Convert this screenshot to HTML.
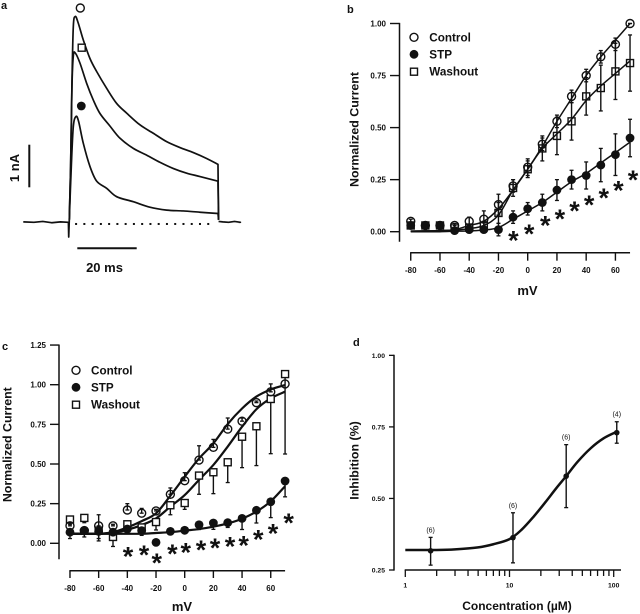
<!DOCTYPE html>
<html lang="en">
<head>
<meta charset="utf-8">
<title>Normalized current figure</title>
<style>
html,body{margin:0;padding:0;background:#fff;width:640px;height:614px;overflow:hidden}
svg{display:block;font-family:"Liberation Sans",Arial,sans-serif;font-weight:bold;fill:#111;filter:blur(0.35px)}
</style>
</head>
<body>
<svg id="fig" width="640" height="614" viewBox="0 0 640 614" xmlns="http://www.w3.org/2000/svg">
  <text x="1" y="9" font-size="11">a</text>
  <text x="347" y="13" font-size="11">b</text>
  <text x="2" y="350" font-size="11">c</text>
  <text x="353" y="346" font-size="11">d</text>

  <text transform="translate(19,168) rotate(-90)" text-anchor="middle" font-size="13">1 nA</text>
  <text x="104.5" y="272" text-anchor="middle" font-size="13">20 ms</text>

  <text transform="translate(358.5,129.5) rotate(-90)" text-anchor="middle" font-size="12.4">Normalized Current</text>
  <text x="527.5" y="295" text-anchor="middle" font-size="13">mV</text>
  <text transform="translate(11.5,444.7) rotate(-90)" text-anchor="middle" font-size="12.4">Normalized Current</text>
  <text x="182" y="611" text-anchor="middle" font-size="13">mV</text>
  <text transform="translate(358.5,460.5) rotate(-90)" text-anchor="middle" font-size="12.4">Inhibition (%)</text>
  <text x="517" y="610" text-anchor="middle" font-size="12">Concentration (µM)</text>

  <g id="panelA"></g>
  <g id="panelB"></g>
  <g id="panelC"></g>
  <g id="panelD"></g>
</svg>

<script>
/* ---------- Panel a: current traces (time in ms, current in nA) ---------- */
const controlTraceTime = [0,0.45,0.9,1.36,2.03,3.05,4.75,7,9.27,12.66,16.05,19.44,23.95,28.47,32.99,37.5,42.03,46.55,50.4,50.6];
const controlTraceCurrent = [0.06,1.33,3.31,4.66,4.9,4.74,4.34,3.9,3.59,3.19,2.83,2.6,2.32,2.12,1.92,1.78,1.66,1.52,1.38,0.06];
const washoutTraceTime = [0,0.45,0.9,1.36,2.03,3.62,5.88,8.14,10.4,13.8,17.2,21.7,26.2,30.7,35.3,39.8,44.3,50.4,50.6];
const washoutTraceCurrent = [0.06,1.33,3.23,3.96,4.03,3.79,3.31,2.91,2.59,2.29,2,1.76,1.6,1.43,1.28,1.17,1.09,0.98,0.06];
const stpTraceTime = [0,0.68,1.36,2.26,3.16,4.75,7,9.27,12.66,16.05,21.7,27.3,33,38.6,44.3,50.4,50.6];
const stpTraceCurrent = [0.06,1.33,2.28,2.52,2.4,1.88,1.33,0.98,0.81,0.61,0.49,0.36,0.29,0.27,0.24,0.21,0.06];
const preBaselineTime = [-15.6,-12,-9,-6,-3,-0.3,-0.2,0];
const preBaselineCurrent = [0.01,0,0.02,-0.01,0.01,0,-0.35,0.06];
const postBaselineTime = [50.6,52,54,56,58,57.4];
const postBaselineCurrent = [0.02,0.01,0,0.02,0,0];
const zeroDotTimes = [2.3,5.1,7.9,10.7,13.5,16.3,19.1,21.9,24.7,27.5,30.3,33.1,35.9,38.7,41.5,44.3,47.1];

/* ---------- Panel b ---------- */
const voltages = [-80,-70,-60,-50,-40,-30,-20,-10,0,10,20,30,40,50,60,70];
const bControl = [0.05,0.03,0.03,0.03,0.05,0.06,0.13,0.22,0.31,0.42,0.53,0.65,0.75,0.84,0.9,1];
const bControlErr = [0.01,0.01,0.01,0.01,0.02,0.04,0.05,0.03,0.04,0.03,0.03,0.03,0.03,0.03,0.03,0];
const bStp = [0.03,0.03,0.03,0.005,0.01,0.01,0.01,0.07,0.11,0.14,0.2,0.25,0.27,0.32,0.37,0.45];
const bStpErr = [0.01,0.01,0.01,0.01,0.01,0.01,0.03,0.03,0.03,0.04,0.05,0.045,0.065,0.08,0.1,0.09];
const bWashout = [0.03,0.03,0.03,0.02,0.02,0.03,0.09,0.21,0.3,0.4,0.46,0.53,0.65,0.69,0.77,0.81];
const bWashoutErr = [0.01,0.01,0.01,0.01,0.01,0.02,0.05,0.04,0.04,0.06,0.09,0.09,0.09,0.11,0.135,0.135];
const bControlFit = [0.003,0.004,0.005,0.01,0.03,0.05,0.11,0.2,0.3,0.41,0.53,0.64,0.75,0.84,0.92,1];
const bWashoutFit = [0.003,0.004,0.005,0.008,0.015,0.03,0.08,0.2,0.3,0.4,0.47,0.54,0.63,0.7,0.76,0.82];
const bStpFit = [0,0,0,0.002,0.004,0.008,0.02,0.06,0.1,0.14,0.19,0.24,0.28,0.33,0.38,0.43];
const bStarVoltages = [-9.8,1,12,22,32,42,52,62,72];
const bStarValues = [-0.016,0.016,0.056,0.088,0.127,0.155,0.189,0.224,0.275];
const bYTicks = [0,0.25,0.5,0.75,1];
const bYLabels = ['0.00','0.25','0.50','0.75','1.00'];
const xTicks = [-80,-60,-40,-20,0,20,40,60];
const xLabels = ['-80','-60','-40','-20','0','20','40','60'];

/* ---------- Panel c ---------- */
const cControl = [0.11,0.08,0.11,0.11,0.21,0.19,0.204,0.309,0.395,0.525,0.605,0.72,0.77,0.887,0.955,1.005];
const cControlUp = [0.03,0.02,0.07,0.01,0.04,0.03,0.01,0.04,0.05,0.09,0.05,0.07,0.02,0.01,0.05,0];
const cStp = [0.07,0.08,0.075,0.07,0.09,0.08,0.006,0.075,0.082,0.117,0.128,0.13,0.157,0.208,0.262,0.393];
const cStpDown = [0.04,0.04,0.06,0.03,0.03,0.03,0,0,0,0.03,0.04,0.03,0.07,0.08,0.1,0.1];
const cWashout = [0.15,0.16,0.08,0.04,0.12,0.1,0.134,0.24,0.254,0.427,0.448,0.511,0.672,0.738,0.91,1.067];
const cWashoutDown = [0.03,0.03,0.05,0.06,0.03,0.03,0.05,0.06,0.04,0.118,0.135,0.128,0.195,0.248,0.345,0.504];
const cUpperFit = [0.06,0.06,0.06,0.07,0.1,0.14,0.189,0.3,0.42,0.535,0.63,0.752,0.85,0.925,0.97,0.998];
const cLowerFit = [0.06,0.06,0.06,0.065,0.085,0.115,0.157,0.231,0.304,0.4,0.494,0.61,0.735,0.845,0.914,0.956];
const cStpFit = [0.06,0.06,0.06,0.06,0.06,0.06,0.065,0.07,0.08,0.09,0.105,0.125,0.155,0.2,0.265,0.36];
const cStarVoltages = [-39.5,-28.4,-19.5,-8.6,0.7,11.4,21.1,31.6,41.1,51.3,61.6,72.5];
const cStarValues = [-0.047,-0.038,-0.088,-0.032,-0.022,-0.007,0.004,0.016,0.02,0.058,0.098,0.164];
const cYTicks = [0,0.25,0.5,0.75,1,1.25];
const cYLabels = ['0.00','0.25','0.50','0.75','1.00','1.25'];

/* ---------- Panel d ---------- */
const concentrations = [1.75,10.8,35,107];
const inhibition = [0.317,0.363,0.578,0.73];
const inhibitionUp = [0.047,0.087,0.11,0.038];
const inhibitionDown = [0.05,0.088,0.11,0.037];
const nLabels = ['(6)','(6)','(6)','(4)'];
const fitConcentrations = [1,2,3,5,7,10,13,17,22,28,35,45,60,80,107];
const fitInhibition = [0.32,0.32,0.322,0.329,0.34,0.358,0.39,0.436,0.486,0.535,0.578,0.628,0.675,0.71,0.733];
const dYTicks = [0.25,0.5,0.75,1];
const dYLabels = ['0.25','0.50','0.75','1.00'];
const dMajorTicks = [1,10,100];
const dMajorLabels = ['1','10','100'];
const dMinorTicks = [2,3,4,5,6,7,8,9,20,30,40,50,60,70,80,90];

/* ---------- Axis functions ---------- */
const traceX = t => 69.3 + t * 2.95;
const traceY = i => 222.3 - i * 42;
const bX = v => 527.7 + v * 1.462;
const bY = v => 231.7 - v * 208.2;
const cX = v => 184.7 + v * 1.434;
const cY = v => 543.3 - v * 158.6;
const dX = c => 405.3 + Math.log10(c) * 104.2;
const dY = v => 570 - (v - 0.25) * 286.2;

const NS = 'http://www.w3.org/2000/svg';
function add(parent, tag, attrs, name, text) {
  const el = document.createElementNS(NS, tag);
  for (const k in attrs) el.setAttribute(k, attrs[k]);
  
  
  if (text !== undefined) el.textContent = text;
  parent.appendChild(el);
  return el;
}
function seg(p, x1, y1, x2, y2, w, name) {
  return add(p, 'line', {x1, y1, x2, y2, stroke: '#111', 'stroke-width': w}, name);
}
function polyPath(xs, ys) {
  return xs.map((x, i) => (i ? 'L' : 'M') + x.toFixed(2) + ' ' + ys[i].toFixed(2)).join('');
}
function smoothPath(xs, ys) {
  let d = 'M' + xs[0].toFixed(2) + ' ' + ys[0].toFixed(2);
  for (let i = 0; i < xs.length - 1; i++) {
    const a = Math.max(i - 1, 0), b = Math.min(i + 2, xs.length - 1);
    const c1x = xs[i] + (xs[i + 1] - xs[a]) / 6, c1y = ys[i] + (ys[i + 1] - ys[a]) / 6;
    const c2x = xs[i + 1] - (xs[b] - xs[i]) / 6, c2y = ys[i + 1] - (ys[b] - ys[i]) / 6;
    d += 'C' + c1x.toFixed(2) + ' ' + c1y.toFixed(2) + ' ' + c2x.toFixed(2) + ' ' + c2y.toFixed(2) + ' ' + xs[i + 1].toFixed(2) + ' ' + ys[i + 1].toFixed(2);
  }
  return d;
}
function marker(p, kind, x, y, name, fill) {
  if (kind === 'circle') return add(p, 'circle', {cx: x, cy: y, r: 4, fill: fill || 'none', stroke: '#111', 'stroke-width': 1.4}, name);
  if (kind === 'dot') return add(p, 'circle', {cx: x, cy: y, r: 4.4, fill: '#111'}, name);
  return add(p, 'rect', {x: x - 3.5, y: y - 3.5, width: 7, height: 7, fill: fill || 'none', stroke: '#111', 'stroke-width': 1.4}, name);
}
function errBar(p, x, y1, y2, name) {
  seg(p, x, y1, x, y2, 1.4, name);
  seg(p, x - 2, y1, x + 2, y1, 1.3, name + '-cap');
  seg(p, x - 2, y2, x + 2, y2, 1.3, name + '-cap');
}
function star(p, x, y, name) {
  add(p, 'text', {x, y: y + 14.5, 'text-anchor': 'middle', 'font-size': 27}, name, '*');
}
function legend(p, mx, tx, ys) {
  marker(p, 'circle', mx, ys[0], 'legend-control-marker', '#fff');
  add(p, 'text', {x: tx, y: ys[0] + 4, 'font-size': 11.7}, 'legend-control-label', 'Control');
  marker(p, 'dot', mx, ys[1], 'legend-stp-marker');
  add(p, 'text', {x: tx, y: ys[1] + 4, 'font-size': 11.7}, 'legend-stp-label', 'STP');
  marker(p, 'square', mx, ys[2], 'legend-washout-marker', '#fff');
  add(p, 'text', {x: tx, y: ys[2] + 4, 'font-size': 11.7}, 'legend-washout-label', 'Washout');
}

/* ---------- Draw panel a ---------- */
(function () {
  const p = document.getElementById('panelA');
  const line = (ts, is, name) => add(p, 'path', {d: polyPath(ts.map(traceX), is.map(traceY)), fill: 'none', stroke: '#111', 'stroke-width': 1.7, 'stroke-linejoin': 'round'}, name);
  const curve = (ts, is, name) => {
    const n = ts.length - 1;
    const body = smoothPath(ts.slice(0, n).map(traceX), is.slice(0, n).map(traceY));
    const tail = 'L' + traceX(ts[n]).toFixed(2) + ' ' + traceY(is[n]).toFixed(2);
    return add(p, 'path', {d: body + tail, fill: 'none', stroke: '#111', 'stroke-width': 1.7, 'stroke-linejoin': 'round'}, name);
  };
  line(preBaselineTime, preBaselineCurrent, 'baseline-before-pulse');
  line(postBaselineTime, postBaselineCurrent, 'baseline-after-pulse');
  curve(controlTraceTime, controlTraceCurrent, 'control-trace');
  curve(washoutTraceTime, washoutTraceCurrent, 'washout-trace');
  curve(stpTraceTime, stpTraceCurrent, 'stp-trace');
  zeroDotTimes.forEach(t => {
    add(p, 'rect', {x: traceX(t) - 1, y: traceY(-0.04) - 1, width: 2, height: 2, fill: '#111'}, 'zero-current-dot');
  });
  marker(p, 'circle', 80.3, 8, 'control-trace-marker', '#fff');
  marker(p, 'square', 81.7, 47.7, 'washout-trace-marker', '#fff');
  marker(p, 'dot', 81.3, 106, 'stp-trace-marker');
  seg(p, 29.3, 144.7, 29.3, 187.3, 2, 'current-scale-bar');
  seg(p, 77.3, 248.3, 136.7, 248.3, 2, 'time-scale-bar');
})();

/* ---------- Draw panel b ---------- */
(function () {
  const p = document.getElementById('panelB');
  seg(p, 399.5, bY(1) - 0.6, 399.5, 241.7, 1.5, 'y-axis');
  bYTicks.forEach((v, i) => {
    seg(p, 390, bY(v), 399.5, bY(v), 1.4, 'y-tick');
    add(p, 'text', {x: 386, y: bY(v) + 2.9, 'text-anchor': 'end', 'font-size': 8}, 'y-tick-label', bYLabels[i]);
  });
  seg(p, bX(-80) - 0.6, 252.7, bX(70), 252.7, 1.5, 'x-axis');
  xTicks.forEach((v, i) => {
    seg(p, bX(v), 252.7, bX(v), 260.7, 1.4, 'x-tick');
    add(p, 'text', {x: bX(v), y: 273, 'text-anchor': 'middle', 'font-size': 8}, 'x-tick-label', xLabels[i]);
  });
  const curve = (vals, name) => add(p, 'path', {d: smoothPath(voltages.map(bX), vals.map(bY)), fill: 'none', stroke: '#111', 'stroke-width': 1.5}, name);
  curve(bControlFit, 'control-fit-curve');
  curve(bWashoutFit, 'washout-fit-curve');
  curve(bStpFit, 'stp-fit-curve');
  voltages.forEach((v, i) => {
    errBar(p, bX(v), bY(bWashout[i] + bWashoutErr[i]), bY(bWashout[i] - bWashoutErr[i]), 'washout-error-bar');
    errBar(p, bX(v), bY(bControl[i] + bControlErr[i]), bY(bControl[i] - bControlErr[i]), 'control-error-bar');
    errBar(p, bX(v), bY(bStp[i] + bStpErr[i]), bY(bStp[i] - bStpErr[i]), 'stp-error-bar');
  });
  voltages.forEach((v, i) => {
    marker(p, 'square', bX(v), bY(bWashout[i]), 'washout-point');
    marker(p, 'circle', bX(v), bY(bControl[i]), 'control-point');
    marker(p, 'dot', bX(v), bY(bStp[i]), 'stp-point');
  });
  bStarVoltages.forEach((v, i) => star(p, bX(v), bY(bStarValues[i]), 'significance-star'));
  legend(p, 414, 429.3, [37.3, 54.3, 71.7]);
})();

/* ---------- Draw panel c ---------- */
(function () {
  const p = document.getElementById('panelC');
  seg(p, 59, cY(1.25) - 0.6, 59, 559.3, 1.5, 'y-axis');
  cYTicks.forEach((v, i) => {
    seg(p, 50, cY(v), 59, cY(v), 1.4, 'y-tick');
    add(p, 'text', {x: 46, y: cY(v) + 2.9, 'text-anchor': 'end', 'font-size': 8}, 'y-tick-label', cYLabels[i]);
  });
  seg(p, cX(-80) - 0.6, 570.7, cX(70), 570.7, 1.5, 'x-axis');
  xTicks.forEach((v, i) => {
    seg(p, cX(v), 570.7, cX(v), 578, 1.4, 'x-tick');
    add(p, 'text', {x: cX(v), y: 591, 'text-anchor': 'middle', 'font-size': 8}, 'x-tick-label', xLabels[i]);
  });
  const curve = (vals, name) => add(p, 'path', {d: smoothPath(voltages.map(cX), vals.map(cY)), fill: 'none', stroke: '#111', 'stroke-width': 2.2}, name);
  curve(cUpperFit, 'control-fit-curve');
  curve(cLowerFit, 'washout-fit-curve');
  curve(cStpFit, 'stp-fit-curve');
  voltages.forEach((v, i) => {
    if (cControlUp[i] > 0) errBar(p, cX(v), cY(cControl[i] + cControlUp[i]), cY(cControl[i]), 'control-error-bar');
    errBar(p, cX(v), cY(cWashout[i]), cY(cWashout[i] - cWashoutDown[i]), 'washout-error-bar');
    if (cStpDown[i] > 0) errBar(p, cX(v), cY(cStp[i]), cY(cStp[i] - cStpDown[i]), 'stp-error-bar');
  });
  voltages.forEach((v, i) => {
    marker(p, 'square', cX(v), cY(cWashout[i]), 'washout-point', '#fff');
    marker(p, 'circle', cX(v), cY(cControl[i]), 'control-point');
    marker(p, 'dot', cX(v), cY(cStp[i]), 'stp-point');
  });
  cStarVoltages.forEach((v, i) => star(p, cX(v), cY(cStarValues[i]), 'significance-star'));
  legend(p, 76, 91, [370.3, 387.3, 404.7]);
})();

/* ---------- Draw panel d ---------- */
(function () {
  const p = document.getElementById('panelD');
  seg(p, 394, dY(1) - 0.6, 394, 570.6, 1.5, 'y-axis');
  dYTicks.forEach((v, i) => {
    seg(p, 389, dY(v), 394, dY(v), 1.3, 'y-tick');
    add(p, 'text', {x: 385, y: dY(v) + 2.4, 'text-anchor': 'end', 'font-size': 6.8}, 'y-tick-label', dYLabels[i]);
  });
  seg(p, dX(1) - 0.6, 570, 621, 570, 1.5, 'x-axis');
  dMajorTicks.forEach((c, i) => {
    seg(p, dX(c), 570, dX(c), 577, 1.3, 'x-major-tick');
    add(p, 'text', {x: dX(c), y: 587.5, 'text-anchor': 'middle', 'font-size': 6.8}, 'x-tick-label', dMajorLabels[i]);
  });
  dMinorTicks.forEach(c => {
    seg(p, dX(c), 570, dX(c), 576, 1.3, 'x-minor-tick');
  });
  add(p, 'path', {d: smoothPath(fitConcentrations.map(dX), fitInhibition.map(dY)), fill: 'none', stroke: '#111', 'stroke-width': 2.5}, 'inhibition-fit-curve');
  concentrations.forEach((c, i) => {
    errBar(p, dX(c), dY(inhibition[i] + inhibitionUp[i]), dY(inhibition[i] - inhibitionDown[i]), 'inhibition-error-bar');
    add(p, 'circle', {cx: dX(c), cy: dY(inhibition[i]), r: 2.8, fill: '#111'}, 'inhibition-point');
    add(p, 'text', {x: dX(c), y: dY(inhibition[i] + inhibitionUp[i]) - 5, 'text-anchor': 'middle', 'font-size': 7, 'font-weight': 'normal'}, 'sample-size-label', nLabels[i]);
  });
})();
</script>
</body>
</html>
